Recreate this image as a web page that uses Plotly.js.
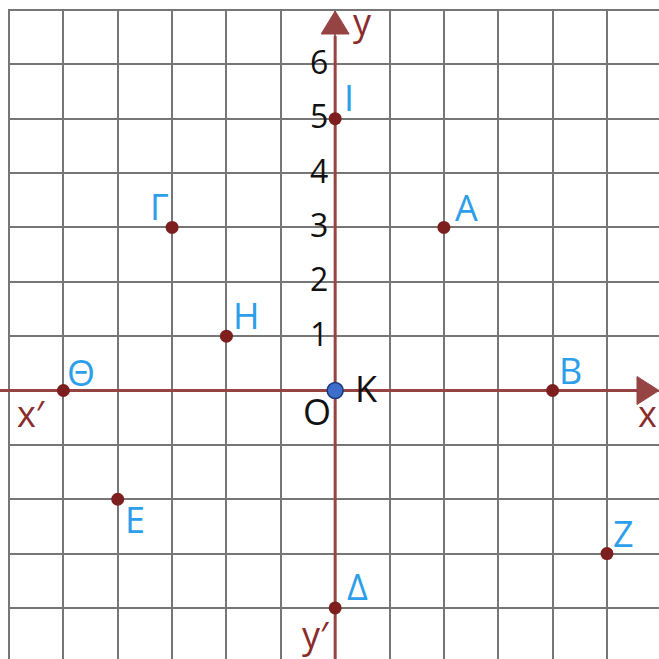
<!DOCTYPE html>
<html>
<head>
<meta charset="utf-8">
<script src="https://cdn.plot.ly/plotly-3.0.1.min.js"></script>
<style>html,body{margin:0;padding:0;background:#fff;}#chart{width:659px;height:659px;}</style>
</head>
<body>
<div id="chart"></div>
<script>
// ---- data ----
const pointNames = ['Α', 'Β', 'Γ', 'Δ', 'Ε', 'Ζ', 'Η', 'Θ', 'Ι'];
const pointX = [2, 4, -3, 0, -4, 5, -2, -5, 0];
const pointY = [3, 0, 3, -4, -2, -3, 1, 0, 5];
const originName = ['Κ'];
const originX = [0];
const originY = [0];
const yTickValues = [1, 2, 3, 4, 5, 6];
const yTickLabels = ['1', '2', '3', '4', '5', '6'];

// ---- label pixel offsets (style) ----
const labelDx = [23, 18, -13, 22, 17, 17, 20, 18, 14];
const labelDy = [-19.5, -20, -21, -21.5, 20.5, -20.5, -21, -18.5, -21];

// ---- styling ----
const unit = 54.36;
const marginL = 8, marginT = 9;
const plotW = 659 - marginL, plotH = 659 - marginT;
const xRange = [-6 - 1 / unit, -6 - 1 / unit + plotW / unit];
const yRange = [7 + 1 / unit - plotH / unit, 7 + 1 / unit];
const gridLeft = -6, gridTop = 7;
const axisColor = '#964343';
const markerColor = '#7d1f1f';
const gridColor = '#767676';
const blue = '#2d9ee9';
const FONT = '"Open Sans", "Noto Sans", sans-serif';

const traces = [
  {
    type: 'scatter', mode: 'markers',
    x: pointX, y: pointY, text: pointNames,
    marker: { color: markerColor, size: 13 },
    hoverinfo: 'text', cliponaxis: false
  },
  {
    type: 'scatter', mode: 'markers',
    x: originX, y: originY, text: originName,
    marker: { color: '#3d6ec9', size: 16, line: { color: '#1e3a7a', width: 1.5 } },
    hoverinfo: 'text', cliponaxis: false
  }
];

const arrowLen = 22 / unit, arrowHalf = 14 / unit;
const xTip = xRange[1], xBase = xRange[1] - arrowLen;
const yTip = gridTop - 1 / unit, yBase = yTip - arrowLen - 1 / unit;
const zeroPaperY = (0 - yRange[0]) / (yRange[1] - yRange[0]);

const shapes = [
  // outer grid lines (left and top edges of the grid)
  { type: 'line', layer: 'between', xref: 'x', yref: 'paper', x0: gridLeft, x1: gridLeft, y0: 0, y1: 1,
    line: { color: gridColor, width: 2 } },
  { type: 'line', layer: 'between', xref: 'paper', yref: 'y', x0: 0, x1: 1, y0: gridTop, y1: gridTop,
    line: { color: gridColor, width: 2 } },
  // x axis stub in the left margin
  { type: 'line', layer: 'above', xref: 'paper', yref: 'paper', x0: -marginL / plotW, x1: 0.001,
    y0: zeroPaperY, y1: zeroPaperY, line: { color: axisColor, width: 3 } },
  // x axis line
  { type: 'line', layer: 'between', xref: 'x', yref: 'y', x0: xRange[0], x1: xBase + 2 / unit, y0: 0, y1: 0,
    line: { color: axisColor, width: 3 } },
  // y axis line
  { type: 'line', layer: 'between', xref: 'x', yref: 'y', x0: 0, x1: 0, y0: yRange[0], y1: yBase - 2 / unit,
    line: { color: axisColor, width: 3 } },
  { type: 'path', layer: 'between', xref: 'x', yref: 'y',
    path: `M ${xTip},0 L ${xBase},${arrowHalf} L ${xBase},${-arrowHalf} Z`,
    fillcolor: axisColor, line: { color: axisColor, width: 1 } },
  { type: 'path', layer: 'between', xref: 'x', yref: 'y',
    path: `M 0,${yTip} L ${arrowHalf},${yBase} L ${-arrowHalf},${yBase} Z`,
    fillcolor: axisColor, line: { color: axisColor, width: 1 } }
];

const annotations = [];
pointNames.forEach((n, i) => {
  annotations.push({
    x: pointX[i], y: pointY[i], text: n, showarrow: false,
    xanchor: 'center', yanchor: 'middle',
    xshift: labelDx[i], yshift: -labelDy[i],
    font: { family: FONT, size: 36, color: blue }
  });
});
annotations.push({
  x: originX[0], y: originY[0], text: originName[0], showarrow: false,
  xanchor: 'center', yanchor: 'middle', xshift: 31, yshift: 2.5,
  font: { family: FONT, size: 36, color: '#111111' }
});
annotations.push({
  x: originX[0], y: originY[0], text: 'O', showarrow: false,
  xanchor: 'center', yanchor: 'middle', xshift: -18, yshift: -20.5,
  font: { family: FONT, size: 36, color: '#111111' }
});
yTickValues.forEach((v, i) => {
  annotations.push({
    x: 0, y: v, text: yTickLabels[i], showarrow: false,
    xanchor: 'right', yanchor: 'middle', xshift: -5, yshift: 3,
    font: { family: FONT, size: 32, color: '#111111' }
  });
});
const axisLabelFont = { family: FONT, size: 36, color: '#8b2c2c' };
annotations.push({ x: xRange[1], y: 0, text: 'x', showarrow: false, xanchor: 'right', yanchor: 'middle',
  xshift: 0, yshift: -22.5, font: axisLabelFont });
annotations.push({ x: xRange[0], y: 0, text: 'x′', showarrow: false, xanchor: 'left', yanchor: 'middle',
  xshift: 7, yshift: -22.5, font: axisLabelFont });
annotations.push({ x: 0, y: gridTop, text: 'y', showarrow: false, xanchor: 'center', yanchor: 'middle',
  xshift: 27, yshift: -11, font: axisLabelFont });
annotations.push({ x: 0, y: yRange[0], text: 'y′', showarrow: false, xanchor: 'center', yanchor: 'middle',
  xshift: -19, yshift: 25, font: axisLabelFont });

const axisCommon = {
  showgrid: true, gridcolor: gridColor, gridwidth: 2,
  zeroline: false, showline: false, showticklabels: false, ticks: '',
  dtick: 1, tick0: 0, fixedrange: true
};

const layout = {
  width: 659, height: 659,
  margin: { l: marginL, r: 0, t: marginT, b: 0, pad: 0 },
  paper_bgcolor: '#ffffff', plot_bgcolor: '#ffffff',
  showlegend: false,
  xaxis: Object.assign({}, axisCommon, { range: xRange }),
  yaxis: Object.assign({}, axisCommon, { range: yRange }),
  shapes: shapes,
  annotations: annotations,
  font: { family: FONT }
};

Plotly.newPlot('chart', traces, layout, { displayModeBar: false, staticPlot: true });
</script>
</body>
</html>
